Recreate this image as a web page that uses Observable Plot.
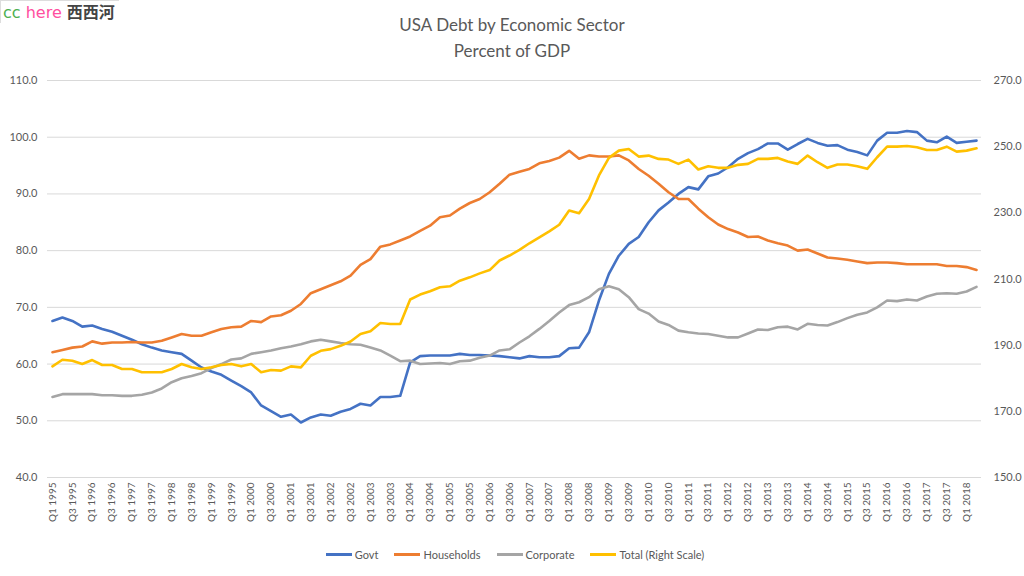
<!DOCTYPE html>
<html>
<head>
<meta charset="utf-8">
<script src="https://cdn.jsdelivr.net/npm/d3@7"></script>
<script src="https://cdn.jsdelivr.net/npm/@observablehq/plot@0.6"></script>
<style>
  html, body { margin: 0; padding: 0; background: #fff; }
  #wrap { position: relative; width: 1024px; height: 576px; overflow: hidden; font-family: Lato, "Noto Sans", sans-serif; }
  #wm { position: absolute; left: 0; top: 0; padding: 1px 4px 1px 2px; font-size: 16px; line-height: 19px; background: #fff; border-top: 1px solid #ddd; border-left: 1px solid #ddd; white-space: nowrap; font-family: "DejaVu Sans", sans-serif; }
  #wm .cc { color: #4caf50; }
  #wm .here { color: #ff4fa0; }
  #wm .xxh { color: #444; font-family: "Noto Sans CJK SC", sans-serif; font-weight: 700; }
  #title { height: 66px; box-sizing: border-box; padding-top: 12px; text-align: center; color: #595959; font-size: 17px; line-height: 26px; font-weight: 400; }
  #legend { height: 34px; display: flex; justify-content: center; align-items: center; padding-left: 6px; padding-bottom: 10px; box-sizing: border-box; font-size: 11px; color: #595959; }
  #legend .item { display: flex; align-items: center; margin: 0 8px; }
  #legend .sw { width: 26px; height: 3px; margin-right: 3px; }
</style>
</head>
<body>
<div id="wrap">
  <div id="wm"><span class="cc">cc</span> <span class="here">here</span> <span class="xxh">西西河</span></div>
  <div id="title">USA Debt by Economic Sector<br>Percent of GDP</div>
  <div id="chart"></div>
  <div id="legend"></div>
</div>
<script>
// ---- Data ----
const years = [1995,1996,1997,1998,1999,2000,2001,2002,2003,2004,2005,2006,2007,2008,2009,2010,2011,2012,2013,2014,2015,2016,2017,2018];
const quarterNames = ["Q1","Q2","Q3","Q4"];
const quarters = years.flatMap(y => quarterNames.map(q => q + " " + y)).slice(0, 94); // Q1 1995 .. Q2 2018

const seriesNames = ["Govt", "Households", "Corporate", "Total (Right Scale)"];
const seriesColors = ["#4472c4", "#ed7d31", "#a5a5a5", "#ffc000"];

const govt = [67.6,68.2,67.6,66.6,66.8,66.2,65.7,65.0,64.3,63.5,
  62.9,62.4,62.1,61.8,60.6,59.4,58.7,58.1,57.1,56.1,
  55.0,52.7,51.7,50.7,51.1,49.7,50.6,51.1,50.9,51.6,
  52.1,53.0,52.7,54.2,54.2,54.4,60.3,61.4,61.5,61.5,
  61.5,61.8,61.6,61.6,61.5,61.4,61.2,61.0,61.4,61.2,
  61.2,61.4,62.8,62.9,65.6,71.2,75.9,79.1,81.2,82.4,
  85.0,87.1,88.5,90.0,91.2,90.8,93.1,93.6,94.7,96.2,
  97.2,97.9,98.9,98.9,97.8,98.8,99.7,99.0,98.5,98.6,
  97.8,97.4,96.8,99.4,100.8,100.8,101.1,100.9,99.4,99.1,
  100.1,99.0,99.2,99.4];

const households = [62.1,62.5,62.9,63.1,64.0,63.6,63.8,63.8,63.9,63.8,
  63.8,64.1,64.7,65.3,65.0,65.0,65.6,66.2,66.5,66.6,
  67.6,67.4,68.4,68.6,69.4,70.6,72.5,73.2,73.9,74.6,
  75.6,77.5,78.5,80.7,81.1,81.8,82.5,83.5,84.4,85.9,
  86.2,87.4,88.4,89.1,90.3,91.8,93.4,93.9,94.4,95.4,
  95.8,96.4,97.6,96.2,96.8,96.6,96.6,96.8,95.9,94.4,
  93.2,91.8,90.3,89.1,89.1,87.4,85.9,84.6,83.8,83.2,
  82.4,82.5,81.8,81.3,80.9,80.0,80.2,79.5,78.8,78.6,
  78.4,78.1,77.8,77.9,77.9,77.8,77.6,77.6,77.6,77.6,
  77.3,77.3,77.1,76.6];

const corporate = [54.2,54.7,54.7,54.7,54.7,54.5,54.5,54.4,54.4,54.6,
  55.0,55.7,56.8,57.5,57.9,58.4,59.3,60.0,60.8,61.0,
  61.8,62.1,62.4,62.8,63.1,63.5,64.0,64.3,64.0,63.7,
  63.5,63.4,62.9,62.4,61.5,60.5,60.6,60.0,60.1,60.2,
  60.0,60.5,60.6,61.1,61.5,62.4,62.6,63.8,64.9,66.2,
  67.6,69.1,70.4,70.9,71.8,73.2,73.7,73.2,71.8,69.7,
  68.9,67.5,66.9,65.9,65.6,65.4,65.3,65.0,64.7,64.7,
  65.4,66.1,66.0,66.5,66.6,66.1,67.1,66.9,66.8,67.4,
  68.1,68.7,69.1,70.0,71.2,71.1,71.4,71.2,71.9,72.4,
  72.5,72.4,72.8,73.6];

const total = [183.6,185.6,185.3,184.3,185.5,184.0,184.0,182.8,182.8,181.8,
  181.8,181.8,182.8,184.3,183.3,182.8,183.3,184.0,184.3,183.6,
  184.3,181.8,182.5,182.3,183.6,183.3,186.8,188.3,188.8,189.8,
  191.1,193.4,194.2,196.7,196.4,196.4,203.8,205.3,206.3,207.5,
  207.8,209.5,210.5,211.7,212.7,215.6,217.1,218.8,220.8,222.6,
  224.4,226.4,230.7,229.9,234.2,241.3,246.6,248.8,249.3,247.0,
  247.3,246.3,246.1,244.8,246.1,243.1,244.1,243.6,243.6,244.5,
  244.8,246.3,246.3,246.6,245.5,244.8,247.3,245.3,243.6,244.6,
  244.6,244.1,243.3,246.8,250.0,250.0,250.2,249.8,249.0,249.0,
  250.0,248.5,248.8,249.5];

const leftTicks = [40,50,60,70,80,90,100,110];
const rightTicks = [150,170,190,210,230,250,270];
const xTickLabels = quarters.filter((q, i) => i % 2 === 0); // Q1 / Q3 labels

// ---- Right-scale mapping onto the left scale ----
const L0 = 40, L1 = 110, R0 = 150, R1 = 270;
const toLeft = v => L0 + (v - R0) * (L1 - L0) / (R1 - R0);
const toRight = v => R0 + (v - L0) * (R1 - R0) / (L1 - L0);

const seriesValues = [govt, households, corporate, total];
const rows = [];
seriesValues.forEach((vals, s) => {
  vals.forEach((v, i) => rows.push({
    quarter: quarters[i],
    value: s === 3 ? toLeft(v) : v,
    series: seriesNames[s]
  }));
});

const chart = Plot.plot({
  width: 1024,
  height: 476,
  marginTop: 14,
  marginBottom: 65,
  marginLeft: 47,
  marginRight: 43,
  style: { fontFamily: "Lato, 'Noto Sans', sans-serif", background: "#fff" },
  x: { type: "point", domain: quarters, padding: 0.5 },
  y: { domain: [L0, L1] },
  color: { domain: seriesNames, range: seriesColors },
  marks: [
    Plot.gridY(leftTicks, { stroke: "#d9d9d9", strokeOpacity: 1, strokeWidth: 1 }),
    Plot.axisY(leftTicks, { anchor: "left", tickSize: 0, tickPadding: 10, tickFormat: d3.format(".1f"), fontSize: 11, color: "#595959", label: null }),
    Plot.axisY(rightTicks.map(toLeft), { anchor: "right", tickSize: 0, tickPadding: 12, tickFormat: v => toRight(v).toFixed(1), fontSize: 11, color: "#595959", label: null }),
    Plot.axisX(xTickLabels, { anchor: "bottom", tickSize: 0, tickPadding: 5, tickRotate: -90, fontSize: 10, color: "#595959", label: null }),
    Plot.lineY(rows, { x: "quarter", y: "value", stroke: "series", z: "series", strokeWidth: 2.6, strokeLinejoin: "round", strokeLinecap: "round" })
  ]
});
document.getElementById("chart").appendChild(chart);

// ---- Legend ----
const legend = document.getElementById("legend");
seriesNames.forEach((name, i) => {
  const item = document.createElement("div");
  item.className = "item";
  const sw = document.createElement("span");
  sw.className = "sw";
  sw.style.background = seriesColors[i];
  const label = document.createElement("span");
  label.textContent = name;
  item.appendChild(sw);
  item.appendChild(label);
  legend.appendChild(item);
});
</script>
</body>
</html>
